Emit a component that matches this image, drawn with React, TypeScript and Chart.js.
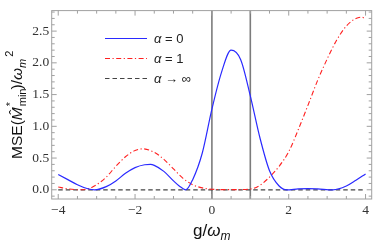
import React, { useEffect, useRef } from "react";
import { Chart, registerables } from "chart.js";

Chart.register(...registerables);

// g / ω_m sample positions and read-off MSE values
const gAlpha0 = [-4, -3.75, -3.5, -3.25, -3.05, -2.75, -2.5, -2.25, -2, -1.75, -1.6, -1.5, -1.25, -1, -0.85, -0.68, -0.5, -0.25, 0, 0.25, 0.5, 0.75, 1, 1.25, 1.5, 1.75, 1.95, 2.25, 2.5, 2.75, 3.15, 3.5, 3.75, 4];
const mseAlpha0 = [0.24, 0.16, 0.08, 0.02, 0.0, 0.05, 0.14, 0.26, 0.35, 0.395, 0.4, 0.385, 0.29, 0.14, 0.06, 0.0, 0.16, 0.58, 1.27, 1.85, 2.2, 2.05, 1.48, 0.82, 0.3, 0.06, 0.0, 0.015, 0.02, 0.015, 0.0, 0.06, 0.15, 0.25];

const gAlpha1 = [-4, -3.75, -3.45, -3.25, -3, -2.75, -2.5, -2.25, -2, -1.8, -1.5, -1.25, -1, -0.75, -0.5, -0.25, 0, 0.5, 1, 1.25, 1.5, 1.75, 2, 2.25, 2.5, 2.75, 3, 3.25, 3.5, 3.75, 3.9, 4];
const mseAlpha1 = [0.045, 0.015, 0.0, 0.01, 0.08, 0.2, 0.37, 0.52, 0.62, 0.645, 0.59, 0.48, 0.33, 0.18, 0.08, 0.03, 0.008, 0.002, 0.012, 0.07, 0.2, 0.37, 0.6, 0.95, 1.33, 1.72, 2.06, 2.36, 2.58, 2.7, 2.72, 2.69];

const gAlphaInf = [-4, 4];
const mseAlphaInf = [0, 0];

const seriesLabels = ["α = 0", "α = 1", "α → ∞"];
const xTickValues = [-4, -2, 0, 2, 4];
const yTickValues = [0, 0.5, 1, 1.5, 2, 2.5];
const markerLines = [0, 1];

const SANS = "'Liberation Sans', Arial, sans-serif";
const SERIF = "'Liberation Serif', 'Times New Roman', serif";

const toPoints = (xs: number[], ys: number[]) => xs.map((x, i) => ({ x, y: ys[i] }));

const framePlugin = {
  id: "frameAndTitles",
  beforeDatasetsDraw(chart: any) {
    const { ctx, chartArea, scales } = chart;
    ctx.save();
    ctx.strokeStyle = "rgba(110,110,110,0.9)";
    ctx.lineWidth = 1.6;
    for (const v of markerLines) {
      const px = scales.x.getPixelForValue(v);
      ctx.beginPath();
      ctx.moveTo(px, chartArea.top);
      ctx.lineTo(px, chartArea.bottom);
      ctx.stroke();
    }
    ctx.restore();
  },
  afterDraw(chart: any) {
    const { ctx, chartArea, scales } = chart;
    const { left, right, top, bottom } = chartArea;
    ctx.save();
    // frame
    ctx.strokeStyle = "#a0a0a0";
    ctx.lineWidth = 1;
    ctx.strokeRect(left, top, right - left, bottom - top);
    // ticks
    ctx.beginPath();
    for (let i = -8; i <= 8; i++) {
      const v = i * 0.5;
      const px = scales.x.getPixelForValue(v);
      const len = i % 4 === 0 ? 5 : 3;
      ctx.moveTo(px, bottom);
      ctx.lineTo(px, bottom - len);
      ctx.moveTo(px, top);
      ctx.lineTo(px, top + len);
    }
    for (let i = -1; i <= 28; i++) {
      const v = i * 0.1;
      const py = scales.y.getPixelForValue(v);
      const len = i % 5 === 0 ? 5 : 3;
      ctx.moveTo(left, py);
      ctx.lineTo(left + len, py);
      ctx.moveTo(right, py);
      ctx.lineTo(right - len, py);
    }
    ctx.stroke();

    // legend
    const ds = chart.data.datasets;
    const legendX0 = 105;
    const legendX1 = 147;
    const legendY = [38.5, 58.5, 78.5];
    ds.forEach((d: any, i: number) => {
      ctx.save();
      ctx.strokeStyle = d.borderColor;
      ctx.lineWidth = d.borderWidth;
      ctx.setLineDash(d.borderDash || []);
      ctx.beginPath();
      ctx.moveTo(legendX0, legendY[i]);
      ctx.lineTo(legendX1, legendY[i]);
      ctx.stroke();
      ctx.restore();
      ctx.fillStyle = "#222";
      ctx.textBaseline = "middle";
      ctx.textAlign = "left";
      const lab: string = d.label;
      const greek = lab.slice(0, 1);
      const rest = lab.slice(1);
      ctx.font = `italic 13px ${SANS}`;
      ctx.fillText(greek, 154, legendY[i] + 0.5);
      const gw = ctx.measureText(greek).width;
      ctx.font = `13px ${SANS}`;
      ctx.fillText(rest, 154 + gw, legendY[i] + 0.5);
    });

    // x title: g/ω_m
    const fs = 17;
    const sub = Math.round(fs * 0.7);
    const xParts = [
      { t: "g/", f: `${fs}px ${SANS}`, dy: 0 },
      { t: "ω", f: `italic ${fs}px ${SANS}`, dy: 0 },
      { t: "m", f: `italic ${sub}px ${SANS}`, dy: 4 },
    ];
    ctx.fillStyle = "#111";
    ctx.textBaseline = "alphabetic";
    ctx.textAlign = "left";
    let total = 0;
    for (const p of xParts) {
      ctx.font = p.f;
      total += ctx.measureText(p.t).width;
    }
    let cx = (left + right) / 2 - total / 2;
    const baseY = 236;
    for (const p of xParts) {
      ctx.font = p.f;
      ctx.fillText(p.t, cx, baseY + p.dy);
      cx += ctx.measureText(p.t).width;
    }

    // y title: MSE(M̂*_min)/ω_m^2 rotated
    const fy = 15.5;
    const suby = 11;
    ctx.save();
    ctx.translate(22, (top + bottom) / 2);
    ctx.rotate(-Math.PI / 2);
    const reg = `${fy}px ${SANS}`;
    const ital = `italic ${fy}px ${SANS}`;
    const small = `${suby}px ${SANS}`;
    const smallIt = `italic ${suby}px ${SANS}`;
    const meas = (t: string, f: string) => {
      ctx.font = f;
      return ctx.measureText(t).width;
    };
    const wMSE = meas("MSE(", reg);
    const wM = meas("M", ital);
    const wMin = Math.max(meas("min", small), meas("*", small) + 2);
    const wPar = meas(")/", reg);
    const wOm = meas("ω", ital);
    const wm = meas("m", smallIt);
    const w2 = meas("2", small);
    const totalY = wMSE + wM + wMin + wPar + wOm + wm + w2 + 2;
    let x = -totalY / 2;
    ctx.font = reg;
    ctx.fillText("MSE(", x, 0);
    x += wMSE;
    ctx.font = ital;
    ctx.fillText("M", x, 0);
    ctx.textAlign = "center";
    ctx.font = `${fy}px ${SANS}`;
    ctx.fillText("\u02C6", x + wM / 2 + 1.5, -2.5);
    ctx.textAlign = "left";
    x += wM + 1;
    ctx.font = small;
    ctx.fillText("*", x, -8.5);
    ctx.fillText("min", x, 3.5);
    x += wMin - 1;
    ctx.font = reg;
    ctx.fillText(")/", x, 0);
    x += wPar;
    ctx.font = ital;
    ctx.fillText("ω", x, 0);
    x += wOm;
    ctx.font = smallIt;
    ctx.fillText("m", x, 3.5);
    x += wm + 2;
    ctx.font = small;
    ctx.fillText("2", x, -9.5);
    ctx.restore();

    ctx.restore();
  },
};

export default function App() {
  const canvasRef = useRef<HTMLCanvasElement | null>(null);

  useEffect(() => {
    document.body.style.margin = "0";
    const canvas = canvasRef.current;
    if (!canvas) return;
    const chart = new Chart(canvas, {
      type: "line",
      data: {
        datasets: [
          {
            label: seriesLabels[0],
            data: toPoints(gAlpha0, mseAlpha0),
            borderColor: "#2a2aff",
            borderWidth: 1.2,
            pointRadius: 0,
            cubicInterpolationMode: "monotone",
            fill: false,
          },
          {
            label: seriesLabels[1],
            data: toPoints(gAlpha1, mseAlpha1),
            borderColor: "#ff2020",
            borderWidth: 1.1,
            borderDash: [5, 2.5, 1.2, 2.5],
            pointRadius: 0,
            cubicInterpolationMode: "monotone",
            fill: false,
          },
          {
            label: seriesLabels[2],
            data: toPoints(gAlphaInf, mseAlphaInf),
            borderColor: "#444444",
            borderWidth: 1.2,
            borderDash: [4.5, 3],
            pointRadius: 0,
            fill: false,
          },
        ],
      },
      options: {
        animation: false,
        responsive: false,
        devicePixelRatio: 1,
        layout: { padding: { top: 1, right: 2.3, left: 0, bottom: 0 } },
        plugins: { legend: { display: false }, tooltip: { enabled: false } },
        scales: {
          x: {
            type: "linear",
            min: -4.17,
            max: 4.16,
            grid: { display: false, drawTicks: false },
            border: { display: false },
            afterFit: (s: any) => {
              s.height = 42;
            },
            afterBuildTicks: (s: any) => {
              s.ticks = xTickValues.map((value) => ({ value }));
            },
            ticks: {
              autoSkip: false,
              maxRotation: 0,
              padding: 3.5,
              color: "#333",
              font: { family: SERIF, size: 13.5 },
              callback: (v: any) => (Number(v) < 0 ? "\u2212" + Math.abs(Number(v)) : String(v)),
            },
          },
          y: {
            type: "linear",
            min: -0.145,
            max: 2.823,
            grid: { display: false, drawTicks: false },
            border: { display: false },
            afterFit: (s: any) => {
              s.width = 51.7;
            },
            afterBuildTicks: (s: any) => {
              s.ticks = yTickValues.map((value) => ({ value }));
            },
            ticks: {
              autoSkip: false,
              padding: 2.5,
              color: "#333",
              font: { family: SERIF, size: 13.5 },
              callback: (v: any) => Number(v).toFixed(1),
            },
          },
        },
      },
      plugins: [framePlugin],
    } as any);
    return () => chart.destroy();
  }, []);

  return (
    <div style={{ position: "fixed", left: 0, top: 0, width: 374, height: 241 }}>
      <canvas ref={canvasRef} width={374} height={241} style={{ width: 374, height: 241, display: "block" }} />
    </div>
  );
}
